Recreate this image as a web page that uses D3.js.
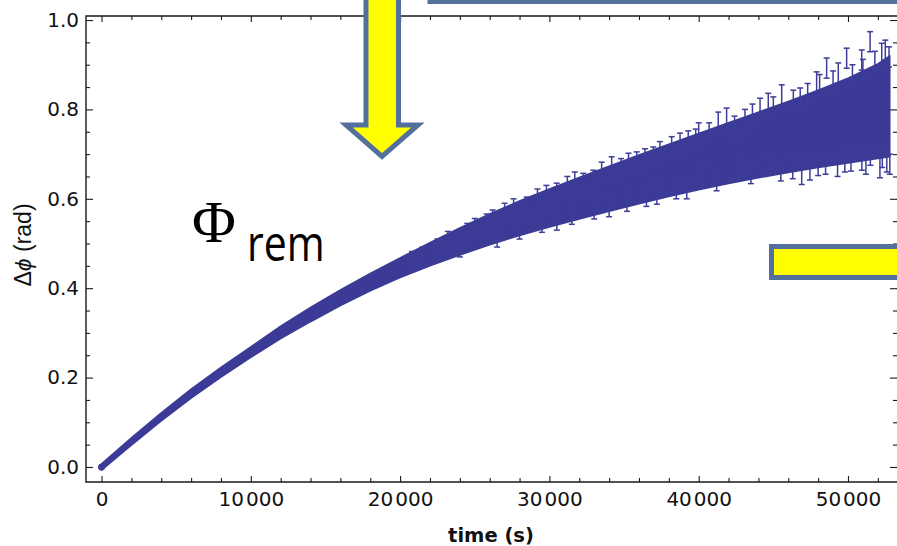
<!DOCTYPE html>
<html>
<head>
<meta charset="utf-8">
<script src="https://cdn.jsdelivr.net/npm/d3@7"></script>
<style>
    html, body { margin: 0; padding: 0; background: #fff; }
    svg { display: block; }
</style>
</head>
<body>
<svg id="chart"></svg>
<script>
// axis ticks and labels
var xTicks = [0, 10000, 20000, 30000, 40000, 50000];
var xTickLabels = ["0", "10\u200a000", "20\u200a000", "30\u200a000", "40\u200a000", "50\u200a000"];
var yTicks = [0, 0.2, 0.4, 0.6, 0.8, 1.0];
var yTickLabels = ["0.0", "0.2", "0.4", "0.6", "0.8", "1.0"];

// dense part of the measured points (lower / upper edge of the cloud), time in s
var bandTime = [0, 2000, 4000, 6000, 8000, 10000, 12000, 14000, 16000, 18000, 20000,
    22000, 24000, 26000, 28000, 30000, 32000, 34000, 36000, 38000, 40000,
    42000, 44000, 46000, 48000, 50000, 52000, 52800];
var bandLow = [-0.007, 0.049, 0.103, 0.154, 0.201, 0.245, 0.287, 0.325, 0.361, 0.394, 0.424,
    0.450, 0.474, 0.497, 0.518, 0.537, 0.555, 0.572, 0.589, 0.605, 0.620,
    0.634, 0.647, 0.659, 0.670, 0.680, 0.690, 0.694];
var bandHigh = [0.007, 0.065, 0.121, 0.174, 0.223, 0.269, 0.315, 0.357, 0.396, 0.433, 0.468,
    0.502, 0.535, 0.566, 0.595, 0.622, 0.648, 0.673, 0.698, 0.722, 0.746,
    0.770, 0.794, 0.818, 0.843, 0.870, 0.902, 0.920];

// single error bars sticking out of the cloud: upper side [time, top]
var topBarTime = [20800, 21500, 22500, 23200, 24500, 25000, 25800, 26200, 27000, 27600,
    28480, 29200, 29800, 30490, 31200, 31700, 32270, 32940, 33500, 34170, 34800,
    35300, 35850, 36400, 36960, 37400, 38190, 38750, 39300, 39800, 40000, 40700,
    41310, 41870, 42400, 43100, 43600, 44110, 44660, 45000, 45560, 46340, 46800,
    47300, 47900, 48100, 48570, 49000, 49350, 49910, 50300, 50920, 51000, 51480,
    51800, 52260, 52500, 52750];
var topBarValue = [0.482, 0.492, 0.510, 0.527, 0.545, 0.556, 0.566, 0.575, 0.590, 0.600,
    0.604, 0.622, 0.630, 0.635, 0.650, 0.660, 0.657, 0.664, 0.682, 0.694, 0.690,
    0.702, 0.705, 0.712, 0.716, 0.728, 0.739, 0.747, 0.752, 0.756, 0.770, 0.770,
    0.794, 0.803, 0.785, 0.800, 0.812, 0.825, 0.836, 0.828, 0.855, 0.843, 0.848,
    0.858, 0.884, 0.878, 0.915, 0.886, 0.904, 0.937, 0.900, 0.933, 0.912, 0.974,
    0.930, 0.948, 0.955, 0.940];

// lower side [time, bottom]
var lowBarTime = [24000, 26500, 28000, 29500, 30500, 31500, 33000, 34000, 35200, 36500,
    37200, 38500, 39200, 40300, 41200, 42800, 43500, 44800, 45500, 46300, 46900,
    47450, 48000, 48500, 49300, 49790, 50200, 50930, 51200, 51500, 52140, 52300,
    52600, 52800];
var lowBarValue = [0.470, 0.492, 0.510, 0.525, 0.530, 0.543, 0.555, 0.560, 0.572, 0.583,
    0.588, 0.600, 0.600, 0.627, 0.618, 0.648, 0.634, 0.657, 0.640, 0.645, 0.632,
    0.642, 0.652, 0.655, 0.650, 0.660, 0.662, 0.664, 0.655, 0.675, 0.647, 0.670,
    0.660, 0.655];

var width = 897,
    height = 546;

var dotColor = "#3b3b97";

var svg = d3.select("#chart")
    .attr("width", width)
    .attr("height", height);

var x = d3.scaleLinear().domain([-1040, 53350]).range([86, 898]);
var y = d3.scaleLinear().domain([-0.0336, 1.009]).range([482, 16]);

var xMinor = d3.range(2000, 54000, 2000).filter(function(d) { return d % 10000 != 0; });
var yMinor = d3.range(0.05, 1.0, 0.05).filter(function(d) { return Math.abs(d * 5 - Math.round(d * 5)) > 0.01; });

function tickAxis(axis, scale, values, size) {
    return axis(scale).tickValues(values).tickSize(size).tickFormat("");
}

function addAxis(gen, tx, ty) {
    var g = svg.append("g")
        .attr("transform", "translate(" + tx + "," + ty + ")")
        .call(gen);
    g.select(".domain").remove();
    g.selectAll("line").attr("stroke", "#1a1a1a").attr("stroke-width", 1.1);
    return g;
}

// major + minor ticks on all four sides, pointing inward
addAxis(tickAxis(d3.axisBottom, x, xMinor, -4), 0, 482);
addAxis(tickAxis(d3.axisTop, x, xMinor, -4), 0, 16);
addAxis(tickAxis(d3.axisTop, x, xTicks, -6), 0, 16);
addAxis(tickAxis(d3.axisLeft, y, yMinor, -4), 86, 0);
addAxis(tickAxis(d3.axisRight, y, yMinor, -4), 897, 0);
addAxis(tickAxis(d3.axisRight, y, yTicks, -7), 897, 0);

addAxis(d3.axisBottom(x).tickValues(xTicks).tickSize(-6).tickPadding(10)
    .tickFormat(function(d, i) { return xTickLabels[i]; }), 0, 482);
addAxis(d3.axisLeft(y).tickValues(yTicks).tickSize(-7).tickPadding(7)
    .tickFormat(function(d, i) { return yTickLabels[i]; }), 86, 0);

svg.selectAll(".tick text")
    .attr("fill", "#111")
    .style("font-family", "'DejaVu Sans', sans-serif")
    .style("font-size", "20px");

// frame
svg.append("path")
    .attr("d", "M897,16H86V482H898")
    .attr("fill", "none")
    .attr("stroke", "#1a1a1a")
    .attr("stroke-width", 1.4);

// data cloud
svg.append("path")
    .datum(d3.zip(bandTime, bandLow, bandHigh))
    .attr("fill", dotColor)
    .attr("stroke", dotColor)
    .attr("stroke-width", 1.5)
    .attr("stroke-linejoin", "round")
    .attr("d", d3.area()
        .x(function(d) { return x(d[0]); })
        .y0(function(d) { return y(d[1]); })
        .y1(function(d) { return y(d[2]); }));

svg.append("circle")
    .attr("cx", x(bandTime[0]))
    .attr("cy", y(0))
    .attr("r", 3.5)
    .attr("fill", dotColor);

// error bar: [time, low, high]
var barData = d3.zip(topBarTime, topBarValue.map(function(v) { return v - 0.045; }), topBarValue)
    .concat(d3.zip(lowBarTime, lowBarValue, lowBarValue.map(function(v) { return v + 0.045; })));

var bars = svg.append("g")
    .attr("stroke", "#3d3d99")
    .attr("stroke-width", 1.5)
    .selectAll("g")
    .data(barData)
    .enter()
    .append("g");

bars.append("line")
    .attr("x1", function(d) { return x(d[0]); })
    .attr("x2", function(d) { return x(d[0]); })
    .attr("y1", function(d) { return y(d[1]); })
    .attr("y2", function(d) { return y(d[2]); });
bars.append("line")
    .attr("x1", function(d) { return x(d[0]) - 3; })
    .attr("x2", function(d) { return x(d[0]) + 3; })
    .attr("y1", function(d) { return y(d[2]); })
    .attr("y2", function(d) { return y(d[2]); });
bars.append("line")
    .attr("x1", function(d) { return x(d[0]) - 3; })
    .attr("x2", function(d) { return x(d[0]) + 3; })
    .attr("y1", function(d) { return y(d[1]); })
    .attr("y2", function(d) { return y(d[1]); });

// axis titles
svg.append("text")
    .attr("x", 491)
    .attr("y", 542)
    .attr("text-anchor", "middle")
    .style("font-family", "'DejaVu Sans', sans-serif")
    .style("font-weight", "bold")
    .style("font-size", "19.5px")
    .attr("fill", "#111")
    .text("time (s)");

var yTitle = svg.append("text")
    .attr("transform", "translate(31,245) rotate(-90)")
    .attr("text-anchor", "middle")
    .style("font-family", "'Liberation Sans', sans-serif")
    .style("font-size", "23px")
    .attr("fill", "#111");
yTitle.append("tspan").text("\u0394");
yTitle.append("tspan").style("font-style", "italic").text("\u03d5");
yTitle.append("tspan").text(" (rad)");

// annotations
var outline = "#52709b",
    yellow = "#ffff00";

svg.append("rect")
    .attr("x", 430)
    .attr("y", -40)
    .attr("width", 500)
    .attr("height", 41.5)
    .attr("fill", "#fff")
    .attr("stroke", outline)
    .attr("stroke-width", 5);

svg.append("path")
    .attr("d", "M366,-10V125H346L382,156.5L418,125H398.5V-10Z")
    .attr("fill", yellow)
    .attr("stroke", outline)
    .attr("stroke-width", 5)
    .attr("stroke-linejoin", "miter");

svg.append("rect")
    .attr("x", 771.5)
    .attr("y", 246.5)
    .attr("width", 200)
    .attr("height", 31)
    .attr("fill", yellow)
    .attr("stroke", outline)
    .attr("stroke-width", 5);

svg.append("text")
    .attr("x", 192)
    .attr("y", 242)
    .style("font-family", "'Liberation Serif', serif")
    .style("font-size", "60px")
    .attr("fill", "#000")
    .text("\u03a6");

svg.append("text")
    .attr("transform", "translate(247,261) scale(1,1.2)")
    .style("font-family", "'Open Sans', sans-serif")
    .style("font-size", "41px")
    .attr("fill", "#000")
    .text("rem");
</script>
</body>
</html>
